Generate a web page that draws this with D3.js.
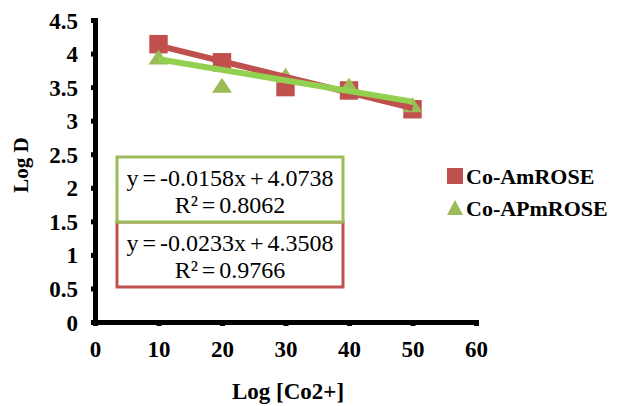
<!DOCTYPE html>
<html>
<head>
<meta charset="utf-8">
<script src="https://cdn.jsdelivr.net/npm/d3@7"></script>
<style>
body { margin: 0; background: #fff; }
text { font-family: "Liberation Serif", "Times New Roman", serif; }
</style>
</head>
<body>
<script>
var w = 618;
var h = 406;

// data
var xValues = [10, 20, 30, 40, 50];
var amRose = [4.14, 3.87, 3.50, 3.45, 3.17];
var apmRose = [3.94, 3.52, 3.67, 3.52, 3.23];
var seriesNames = ["Co-AmROSE", "Co-APmROSE"];
var xTicks = [0, 10, 20, 30, 40, 50, 60];
var yTicks = [0, 0.5, 1, 1.5, 2, 2.5, 3, 3.5, 4, 4.5];
// trendline coefficients [slope, intercept, r2]
var amTrend = [-0.0233, 4.3508, 0.9766];
var apmTrend = [-0.0158, 4.0738, 0.8062];

var red = "#C0504D";
var green = "#9BBB59";
var greenLine = "#92D050";

var svg = d3.select("body")
    .append("svg")
    .attr("width", w)
    .attr("height", h);

var x = d3.scaleLinear().domain([0, 60]).range([95, 476]);
var y = d3.scaleLinear().domain([0, 4.5]).range([322, 20]);

// axes
var yAxis = svg.append("g")
    .attr("transform", "translate(" + x(0) + ",0)")
    .call(d3.axisLeft(y).tickValues(yTicks).tickSize(4).tickPadding(13)
        .tickFormat(function (d) { return d; }));
var xAxis = svg.append("g")
    .attr("transform", "translate(0," + y(0) + ")")
    .call(d3.axisBottom(x).tickValues(xTicks).tickSize(4).tickPadding(14));

[xAxis, yAxis].forEach(function (a) {
    a.select(".domain").attr("stroke", "#000").attr("stroke-width", 5);
    a.selectAll(".tick line").attr("stroke", "#000").attr("stroke-width", 5);
    a.selectAll(".tick text")
        .attr("fill", "#000")
        .attr("font-size", 23)
        .attr("font-weight", "bold")
        .style("font-family", "'Liberation Serif', serif");
});
yAxis.selectAll(".tick text").attr("dy", "0.35em");
xAxis.selectAll(".tick text").attr("dy", "0.72em");

// axis titles
svg.append("text")
    .attr("transform", "translate(28,165) rotate(-90)")
    .attr("text-anchor", "middle")
    .attr("font-size", 21)
    .attr("font-weight", "bold")
    .text("Log D");
svg.append("text")
    .attr("x", 288)
    .attr("y", 399)
    .attr("text-anchor", "middle")
    .attr("font-size", 23)
    .attr("font-weight", "bold")
    .text("Log [Co2+]");

// markers
var amPts = xValues.map(function (d, i) { return [d, amRose[i]]; });
var apmPts = xValues.map(function (d, i) { return [d, apmRose[i]]; });

svg.selectAll("path.sq")
    .data(amPts)
    .enter()
    .append("path")
    .attr("class", "sq")
    .attr("d", d3.symbol().type(d3.symbolSquare).size(340))
    .attr("transform", function (d) { return "translate(" + x(d[0]) + "," + y(d[1]) + ")"; })
    .attr("fill", red);

svg.selectAll("path.tri")
    .data(apmPts)
    .enter()
    .append("path")
    .attr("class", "tri")
    .attr("d", "M0,-8L10,7L-10,7Z")
    .attr("transform", function (d) { return "translate(" + x(d[0]) + "," + y(d[1]) + ")"; })
    .attr("fill", green);

// trendlines
var line = d3.line()
    .x(function (d) { return x(d[0]); })
    .y(function (d) { return y(d[1]); });

function trendPts(t) {
    var x0 = d3.min(xValues), x1 = d3.max(xValues);
    return [[x0, t[0] * x0 + t[1]], [x1, t[0] * x1 + t[1]]];
}

svg.append("path")
    .attr("d", line(trendPts(amTrend)))
    .attr("stroke", red)
    .attr("stroke-width", 6)
    .attr("fill", "none");
svg.append("path")
    .attr("d", line(trendPts(apmTrend)))
    .attr("stroke", greenLine)
    .attr("stroke-width", 6)
    .attr("fill", "none");

// equation boxes
function fmt(t) {
    return ["y = " + t[0].toFixed(4) + "x + " + t[1].toFixed(4), "R\u00b2 = " + t[2].toFixed(4)];
}

function eqBox(top, t, color) {
    svg.append("rect")
        .attr("x", 117)
        .attr("y", top)
        .attr("width", 226)
        .attr("height", 65)
        .attr("fill", "#fff")
        .attr("stroke", color)
        .attr("stroke-width", 3);
    var lines = fmt(t);
    lines.forEach(function (s, i) {
        svg.append("text")
            .attr("x", 230)
            .attr("y", top + 29 + i * 27)
            .attr("text-anchor", "middle")
            .attr("font-size", 24)
            .attr("word-spacing", -2)
            .attr("fill", "#000")
            .text(s);
    });
}

eqBox(222, amTrend, red);
eqBox(157, apmTrend, green);

// legend
svg.append("rect")
    .attr("x", 447).attr("y", 168)
    .attr("width", 16).attr("height", 16)
    .attr("fill", red);
svg.append("path")
    .attr("d", "M455,200L463,215L447,215Z")
    .attr("fill", green);
seriesNames.forEach(function (s, i) {
    svg.append("text")
        .attr("x", 466)
        .attr("y", 184 + i * 32)
        .attr("font-size", 22)
        .attr("font-weight", "bold")
        .text(s);
});
</script>
</body>
</html>
